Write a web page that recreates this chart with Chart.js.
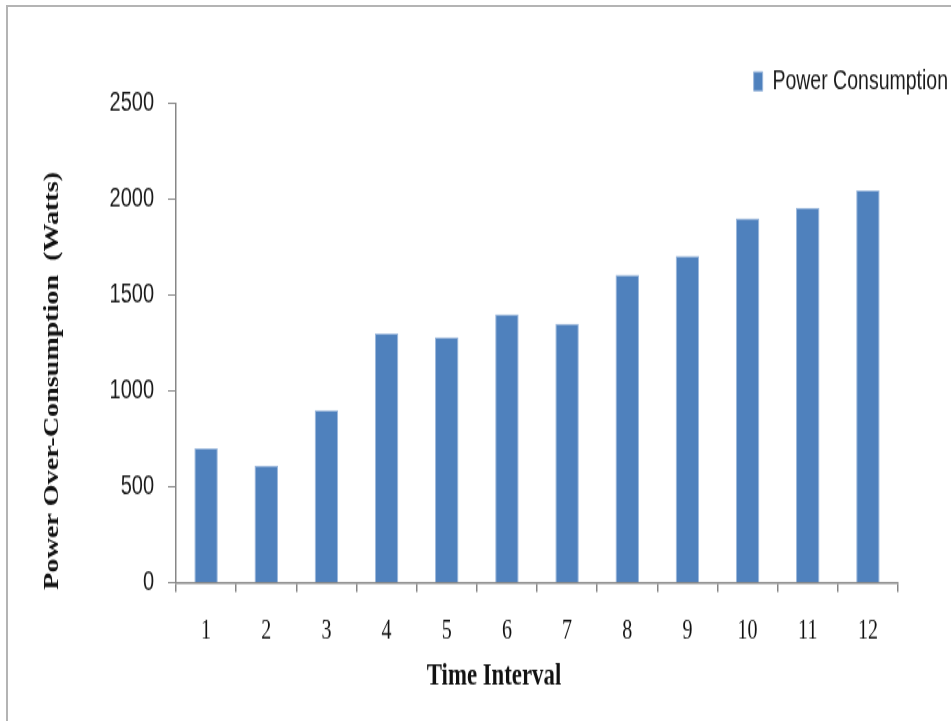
<!DOCTYPE html>
<html>
<head>
<meta charset="utf-8">
<script src="https://cdn.jsdelivr.net/npm/chart.js@4/dist/chart.umd.min.js"></script>
<style>
  html, body { margin: 0; padding: 0; background: #ffffff; overflow: hidden; }
  #frame {
    position: absolute; left: 6px; top: 5px; width: 1000px; height: 800px;
    border-top: 2px solid #b4b4b4; border-left: 2px solid #b4b4b4;
    box-sizing: border-box;
  }
  #chart {
    position: absolute; left: 0; top: 0;
    transform-origin: 0 0;
    transform: scaleY(1.3502);
  }
</style>
</head>
<body>
<div id="frame"></div>
<canvas id="chart" width="951" height="534"></canvas>
<script>
// Time intervals and measured power over-consumption (Watts)
const intervals = ['1', '2', '3', '4', '5', '6', '7', '8', '9', '10', '11', '12'];
const powerConsumption = [700, 610, 900, 1300, 1280, 1400, 1350, 1605, 1705, 1900, 1955, 2045];
const seriesName = 'Power Consumption';
const xTitle = 'Time Interval';
const yTitle = 'Power Over-Consumption  (Watts)';

const BAR_BLUE = '#4F81BD';
const AXIS_GREY = '#878787';

// Draws the two axis captions in bold serif beside the plot
const axisCaptions = {
  id: 'axisCaptions',
  afterDraw(chart) {
    const ctx = chart.ctx;
    const area = chart.chartArea;
    ctx.save();
    ctx.fillStyle = '#111111';
    ctx.textAlign = 'center';
    ctx.textBaseline = 'middle';
    ctx.font = 'bold 22.8px "Liberation Serif", "Times New Roman", serif';
    ctx.fillText(xTitle, area.left + 318, area.bottom + 70);
    ctx.translate(53, (area.top + area.bottom) / 2 + 28);
    ctx.rotate(-Math.PI / 2);
    ctx.font = 'bold 20.8px "Liberation Serif", "Times New Roman", serif';
    ctx.fillText(yTitle, 0, 0);
    ctx.restore();
  }
};

new Chart(document.getElementById('chart'), {
  type: 'bar',
  data: {
    labels: intervals,
    datasets: [{
      label: seriesName,
      data: powerConsumption,
      backgroundColor: BAR_BLUE,
      borderColor: '#9cb8dc',
      borderWidth: 1,
      barPercentage: 0.39,
      categoryPercentage: 1.0
    }]
  },
  options: {
    responsive: false,
    animation: false,
    devicePixelRatio: 1,
    layout: { padding: { left: 0, right: 0, top: 47.5, bottom: 42.5 } },
    plugins: {
      legend: {
        display: true,
        position: 'top',
        align: 'end',
        maxHeight: 29,
        labels: {
          boxWidth: 9,
          boxHeight: 14,
          padding: 3,
          color: '#1a1a1a',
          font: { family: '"Liberation Sans", Arial, sans-serif', size: 19.5 }
        }
      },
      tooltip: { enabled: false }
    },
    scales: {
      x: {
        offset: true,
        afterFit(scale) { scale.height = 60; },
        grid: {
          offset: true,
          drawOnChartArea: false,
          drawTicks: true,
          tickLength: 7,
          color: AXIS_GREY,
          lineWidth: 1.5
        },
        border: { display: true, color: AXIS_GREY, width: 1.5 },
        ticks: {
          padding: 17,
          color: '#111111',
          maxRotation: 0,
          font: { family: '"Liberation Serif", "Times New Roman", serif', size: 20 }
        }
      },
      y: {
        min: 0,
        max: 2500,
        afterFit(scale) { scale.width = 176; },
        grid: {
          drawOnChartArea: false,
          drawTicks: true,
          tickLength: 8,
          color: AXIS_GREY,
          lineWidth: 1
        },
        border: { display: true, color: AXIS_GREY, width: 1.5 },
        ticks: {
          stepSize: 500,
          padding: 14,
          color: '#1a1a1a',
          font: { family: '"Liberation Sans", Arial, sans-serif', size: 20 },
          callback: (value) => String(value)
        }
      },
      gutter: {
        type: 'linear',
        position: 'right',
        display: true,
        afterFit(scale) { scale.width = 53; },
        grid: { display: false, drawTicks: false },
        border: { display: false },
        ticks: { display: false }
      }
    }
  },
  plugins: [axisCaptions]
});
</script>
</body>
</html>
